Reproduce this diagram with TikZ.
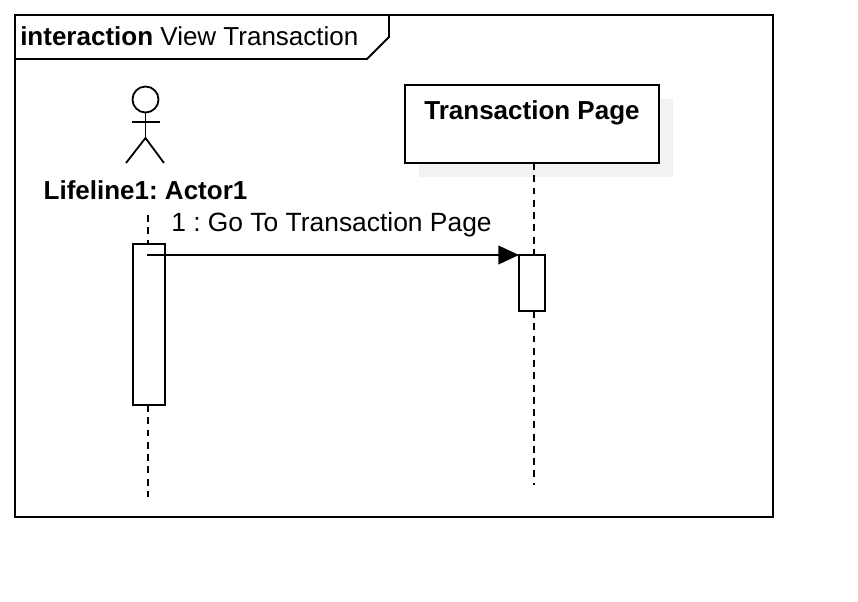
\documentclass[tikz,border=0pt]{standalone}
\usepackage{fontspec}
\setmainfont{Liberation Sans}
\usetikzlibrary{arrows.meta}
\definecolor{shadowgrey}{HTML}{F2F2F2}
\tikzset{
  umlline/.style={line width=1.35pt},
  lifeline/.style={line width=1.35pt, dash pattern=on 5.2pt off 4pt},
  umlbox/.style={draw, umlline, inner sep=0pt, outer sep=0pt, anchor=north west},
  activation/.style={umlbox, fill=white, minimum width=#1},
  umltext/.style={inner sep=0pt, font=\fontsize{19.5}{19.5}\selectfont\frenchspacing},
  umlbold/.style={inner sep=0pt, font=\fontsize{19.5}{19.5}\selectfont\bfseries\frenchspacing}
}
\begin{document}
\begin{tikzpicture}[x=0.75pt, y=-0.75pt]

\useasboundingbox (0,0) rectangle (858,602);

% Frame and its tab
\node[umlbox, minimum width=568.5pt, minimum height=376.5pt] (frame) at (15,15) {};
\draw[umlline] (15,59) -- (367,59) -- (389,37) -- (389,15);
\node[umltext, anchor=west] (title) at (20,36) {\textbf{interaction} View Transaction};

% Object with shadow
\fill[shadowgrey] (419,99) rectangle (673,177);
\node[umlbox, fill=white, minimum width=190.5pt, minimum height=58.5pt] (page) at (405,85) {};
\node[umlbold] (pagelabel) at (532,113) {Transaction Page};

% Actor
\node[draw, umlline, circle, inner sep=0pt, minimum size=19.5pt] (head) at (145.5,99.5) {};
\coordinate (hip) at (145.5,138);
\coordinate (armL) at (131.5,122);
\coordinate (armR) at (159.5,122);
\coordinate (legL) at (126,163);
\coordinate (legR) at (164,163);
\draw[umlline] (head) -- (hip);
\draw[umlline] (armL) -- (armR);
\draw[umlline] (legL) -- (hip) -- (legR);
\node[umlbold] (actorlabel) at (145.5,190) {Lifeline1: Actor1};

% Activations
\node[activation=24pt, minimum height=120.75pt] (barA) at (133,244) {};
\node[activation=19.5pt, minimum height=42pt] (barB) at (519,255) {};

% Lifelines
\coordinate (lifeAtop) at (148,215);
\coordinate (lifeAend) at (148,497);
\coordinate (lifeBend) at (534,485);
\draw[lifeline] (lifeAtop) -- (148,244);
\draw[lifeline] (148,405) -- (lifeAend);
\draw[lifeline] (534,163) -- (534,255);
\draw[lifeline] (534,311) -- (lifeBend);

% Message
\coordinate (msgstart) at (147,255);
\draw[umlline, -{Triangle[length=15.5pt, width=14pt]}] (msgstart) -- (barB.north west);
\node[umltext, font=\fontsize{19.8}{19.8}\selectfont\frenchspacing, anchor=west] (msglabel) at (171,225) {1 : Go To Transaction Page};

\end{tikzpicture}
\end{document}
